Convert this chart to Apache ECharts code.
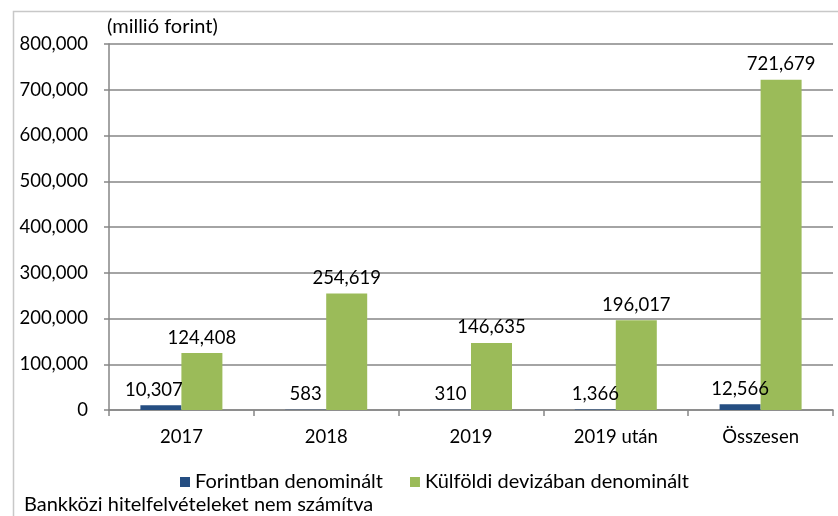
<!DOCTYPE html>
<html><head><meta charset="utf-8">
<script src="https://cdn.jsdelivr.net/npm/echarts@6/dist/echarts.min.js"></script>
<style>html,body{margin:0;padding:0;background:#fff}#c{width:838px;height:516px}</style>
</head><body><div id="c"></div>
<script>
const categories = ['2017', '2018', '2019', '2019 után', 'Összesen'];
const forintValues = [10307, 583, 310, 1366, 12566];
const devizaValues = [124408, 254619, 146635, 196017, 721679];
const seriesNames = ['Forintban denominált', 'Külföldi devizában denominált'];
const unitLabel = '(millió forint)';
const footnote = 'Bankközi hitelfelvételeket nem számítva';

const FONT = 'Lato';
const NUM = 18.5;
const TXT = 20;
const fmt = v => v.toLocaleString('en-US');
const chart = echarts.init(document.getElementById('c'), null, {renderer: 'canvas'});
const labelStyle = {show: true, position: 'top', distance: 6, color: '#000', fontFamily: FONT, fontSize: NUM, formatter: p => fmt(p.value)};
const forintData = forintValues.map((v, i) => i === 0 ? {value: v, label: {offset: [-7, 0]}} : v);
chart.setOption({
  animation: false,
  textStyle: {fontFamily: FONT},
  graphic: [
    {type: 'rect', left: 11, top: 9, shape: {width: 900, height: 600}, style: {fill: 'none', stroke: '#c8c8c8', lineWidth: 1.5}, silent: true},
    {type: 'text', left: 107, top: 17, style: {text: unitLabel, font: TXT + 'px Lato', fill: '#000'}},
    {type: 'text', left: 24, top: 495, style: {text: footnote, font: TXT + 'px Lato', fill: '#000'}}
  ],
  grid: {left: 109, top: 44, right: 5, bottom: 106},
  legend: {
    left: 175, top: 467, itemWidth: 10, itemHeight: 10, itemGap: 27, itemTextGap: 7, itemStyle: {borderWidth: 0},
    textStyle: {fontFamily: FONT, fontSize: TXT, color: '#000'},
    data: [{name: seriesNames[0], icon: 'rect'}, {name: seriesNames[1], icon: 'rect'}]
  },
  xAxis: {
    type: 'category', data: categories,
    axisLine: {lineStyle: {color: '#868686', width: 1.5}},
    axisTick: {show: true, length: 6, lineStyle: {color: '#868686', width: 1.5}},
    axisLabel: {color: '#000', fontFamily: FONT, fontSize: NUM, margin: 18}
  },
  yAxis: {
    type: 'value', min: 0, max: 800000, interval: 100000,
    axisLine: {show: true, lineStyle: {color: '#868686', width: 1.5}},
    axisTick: {show: true, length: 5, lineStyle: {color: '#868686', width: 1.5}},
    splitLine: {lineStyle: {color: '#868686', width: 1.5}},
    axisLabel: {color: '#000', fontFamily: FONT, fontSize: NUM, margin: 21, formatter: v => fmt(v)}
  },
  series: [
    {name: seriesNames[0], type: 'bar', data: forintData, barWidth: 41, barGap: '0%', itemStyle: {color: '#254E82'}, label: labelStyle},
    {name: seriesNames[1], type: 'bar', data: devizaValues, barWidth: 41, barGap: '0%', itemStyle: {color: '#9BBB59'}, label: labelStyle}
  ]
});
</script></body></html>
